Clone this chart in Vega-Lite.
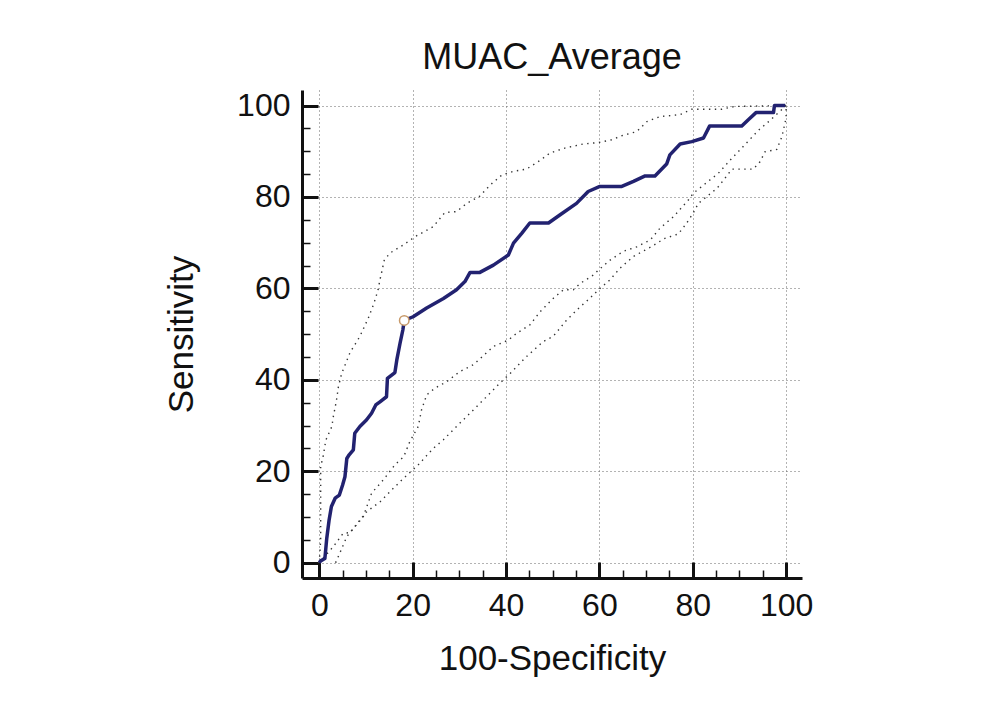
{
  "$schema": "https://vega.github.io/schema/vega-lite/v6.json",
  "autosize": {"type": "none"},
  "padding": {"left": 302, "top": 90, "right": 184, "bottom": 145},
  "width": 500,
  "height": 488,
  "background": "white",
  "title": {"text": "MUAC_Average", "fontSize": 36, "font": "Liberation Sans", "fontWeight": "normal", "color": "#111111", "anchor": "middle", "frame": "group", "offset": 13},
  "config": {
    "view": {"stroke": null},
    "axis": {
      "labelFont": "Liberation Sans",
      "titleFont": "Liberation Sans",
      "labelFontSize": 32,
      "titleFontSize": 35,
      "titleFontWeight": "normal",
      "labelColor": "#111111",
      "titleColor": "#111111",
      "domainColor": "#111111",
      "domainWidth": 3,
      "tickColor": "#111111",
      "gridColor": "#666666",
      "gridDash": [1, 3],
      "gridWidth": 1
    }
  },
  "datasets": {
    "roc": [
      {"i": 0, "x": 0, "y": 0}, {"i": 1, "x": 0.3, "y": 0.4}, {"i": 2, "x": 1.2, "y": 0.9}, {"i": 3, "x": 1.6, "y": 5.3},
      {"i": 4, "x": 2.1, "y": 9.3}, {"i": 5, "x": 2.6, "y": 12.3}, {"i": 6, "x": 3.4, "y": 14.1}, {"i": 7, "x": 4.3, "y": 14.8},
      {"i": 8, "x": 5, "y": 17}, {"i": 9, "x": 5.5, "y": 18.8}, {"i": 10, "x": 5.9, "y": 22.8}, {"i": 11, "x": 6.4, "y": 23.6},
      {"i": 12, "x": 7.3, "y": 24.7}, {"i": 13, "x": 7.6, "y": 28.3}, {"i": 14, "x": 8.7, "y": 29.8}, {"i": 15, "x": 10.1, "y": 31.2},
      {"i": 16, "x": 11.2, "y": 32.7}, {"i": 17, "x": 12.1, "y": 34.5}, {"i": 18, "x": 13, "y": 35.2}, {"i": 19, "x": 14.4, "y": 36.3},
      {"i": 20, "x": 14.6, "y": 40.3}, {"i": 21, "x": 16.2, "y": 41.6}, {"i": 22, "x": 16.6, "y": 44.3}, {"i": 23, "x": 17.3, "y": 48},
      {"i": 24, "x": 17.9, "y": 50.9}, {"i": 25, "x": 18.2, "y": 53}, {"i": 26, "x": 20.1, "y": 53.8}, {"i": 27, "x": 23, "y": 55.7},
      {"i": 28, "x": 26.6, "y": 57.8}, {"i": 29, "x": 29.4, "y": 59.7}, {"i": 30, "x": 31.2, "y": 61.5}, {"i": 31, "x": 32.3, "y": 63.5},
      {"i": 32, "x": 34.4, "y": 63.5}, {"i": 33, "x": 37.3, "y": 65.1}, {"i": 34, "x": 40.5, "y": 67.3}, {"i": 35, "x": 41.6, "y": 69.9},
      {"i": 36, "x": 43.4, "y": 72.1}, {"i": 37, "x": 45.1, "y": 74.3}, {"i": 38, "x": 49.1, "y": 74.3}, {"i": 39, "x": 51.6, "y": 76.1},
      {"i": 40, "x": 55.1, "y": 78.6}, {"i": 41, "x": 57.6, "y": 81.2}, {"i": 42, "x": 60.1, "y": 82.3}, {"i": 43, "x": 64.8, "y": 82.3},
      {"i": 44, "x": 67.3, "y": 83.4}, {"i": 45, "x": 69.8, "y": 84.6}, {"i": 46, "x": 71.9, "y": 84.6}, {"i": 47, "x": 74.4, "y": 87.2},
      {"i": 48, "x": 75.1, "y": 89.2}, {"i": 49, "x": 77.3, "y": 91.6}, {"i": 50, "x": 79.8, "y": 92.1}, {"i": 51, "x": 82.3, "y": 92.9},
      {"i": 52, "x": 83.6, "y": 95.5}, {"i": 53, "x": 90.5, "y": 95.5}, {"i": 54, "x": 91.9, "y": 96.9}, {"i": 55, "x": 93.6, "y": 98.5},
      {"i": 56, "x": 97.3, "y": 98.5}, {"i": 57, "x": 97.5, "y": 100}, {"i": 58, "x": 99.8, "y": 100}
    ],
    "bands": [
      {"s": "upper", "i": 0, "x": 0, "y": 0}, {"s": "upper", "i": 1, "x": 0.3, "y": 5}, {"s": "upper", "i": 2, "x": 0.3, "y": 21},
      {"s": "upper", "i": 3, "x": 0.9, "y": 23.6}, {"s": "upper", "i": 4, "x": 1.4, "y": 26.8}, {"s": "upper", "i": 5, "x": 2.7, "y": 29.8},
      {"s": "upper", "i": 6, "x": 3, "y": 31.9}, {"s": "upper", "i": 7, "x": 3.7, "y": 35.6}, {"s": "upper", "i": 8, "x": 4.1, "y": 38.5},
      {"s": "upper", "i": 9, "x": 4.8, "y": 41.4}, {"s": "upper", "i": 10, "x": 6.6, "y": 46}, {"s": "upper", "i": 11, "x": 8.7, "y": 49.5},
      {"s": "upper", "i": 12, "x": 10.5, "y": 53.5}, {"s": "upper", "i": 13, "x": 11.7, "y": 56.7}, {"s": "upper", "i": 14, "x": 12.6, "y": 59.7},
      {"s": "upper", "i": 15, "x": 13, "y": 61.9}, {"s": "upper", "i": 16, "x": 13.4, "y": 63.7}, {"s": "upper", "i": 17, "x": 13.9, "y": 66.1},
      {"s": "upper", "i": 18, "x": 15.1, "y": 67.7}, {"s": "upper", "i": 19, "x": 18, "y": 69.5}, {"s": "upper", "i": 20, "x": 20.5, "y": 71.3},
      {"s": "upper", "i": 21, "x": 24.4, "y": 73.5}, {"s": "upper", "i": 22, "x": 26.9, "y": 76.6}, {"s": "upper", "i": 23, "x": 29.4, "y": 76.8},
      {"s": "upper", "i": 24, "x": 31.6, "y": 78.6}, {"s": "upper", "i": 25, "x": 34.4, "y": 80.2}, {"s": "upper", "i": 26, "x": 36.6, "y": 82.6},
      {"s": "upper", "i": 27, "x": 39.1, "y": 84.8}, {"s": "upper", "i": 28, "x": 41.6, "y": 85.6}, {"s": "upper", "i": 29, "x": 44.4, "y": 86.1},
      {"s": "upper", "i": 30, "x": 47.3, "y": 88}, {"s": "upper", "i": 31, "x": 49.4, "y": 89.6}, {"s": "upper", "i": 32, "x": 52.6, "y": 90.7},
      {"s": "upper", "i": 33, "x": 56.6, "y": 91.6}, {"s": "upper", "i": 34, "x": 59.8, "y": 91.9}, {"s": "upper", "i": 35, "x": 62.6, "y": 92.5},
      {"s": "upper", "i": 36, "x": 64.8, "y": 93.4}, {"s": "upper", "i": 37, "x": 68, "y": 94.3}, {"s": "upper", "i": 38, "x": 70.2, "y": 96.5},
      {"s": "upper", "i": 39, "x": 73, "y": 97.6}, {"s": "upper", "i": 40, "x": 77.3, "y": 98}, {"s": "upper", "i": 41, "x": 79.8, "y": 99.2},
      {"s": "upper", "i": 42, "x": 86.2, "y": 99.2}, {"s": "upper", "i": 43, "x": 89, "y": 99.8}, {"s": "upper", "i": 44, "x": 100, "y": 100},

      {"s": "lowerB", "i": 0, "x": 0, "y": 0}, {"s": "lowerB", "i": 1, "x": 3, "y": 3.5}, {"s": "lowerB", "i": 2, "x": 5.1, "y": 6.4},
      {"s": "lowerB", "i": 3, "x": 6.6, "y": 6.6}, {"s": "lowerB", "i": 4, "x": 9.4, "y": 10}, {"s": "lowerB", "i": 5, "x": 11.2, "y": 15.2},
      {"s": "lowerB", "i": 6, "x": 13.7, "y": 18.1}, {"s": "lowerB", "i": 7, "x": 16.2, "y": 21.4}, {"s": "lowerB", "i": 8, "x": 18.1, "y": 23.2},
      {"s": "lowerB", "i": 9, "x": 19.4, "y": 26.5}, {"s": "lowerB", "i": 10, "x": 21.2, "y": 29.8}, {"s": "lowerB", "i": 11, "x": 21.9, "y": 33.4},
      {"s": "lowerB", "i": 12, "x": 23, "y": 36.7}, {"s": "lowerB", "i": 13, "x": 24.8, "y": 38.2}, {"s": "lowerB", "i": 14, "x": 27.3, "y": 39.6},
      {"s": "lowerB", "i": 15, "x": 30.1, "y": 41.8}, {"s": "lowerB", "i": 16, "x": 33, "y": 43.3}, {"s": "lowerB", "i": 17, "x": 37.3, "y": 47.3},
      {"s": "lowerB", "i": 18, "x": 40.5, "y": 48.7}, {"s": "lowerB", "i": 19, "x": 42.3, "y": 50.2}, {"s": "lowerB", "i": 20, "x": 45.1, "y": 52},
      {"s": "lowerB", "i": 21, "x": 47.3, "y": 54.9}, {"s": "lowerB", "i": 22, "x": 50.1, "y": 57.8}, {"s": "lowerB", "i": 23, "x": 52.3, "y": 59.7},
      {"s": "lowerB", "i": 24, "x": 54.4, "y": 59.7}, {"s": "lowerB", "i": 25, "x": 55.9, "y": 61.1}, {"s": "lowerB", "i": 26, "x": 58.7, "y": 62.9},
      {"s": "lowerB", "i": 27, "x": 59.8, "y": 64}, {"s": "lowerB", "i": 28, "x": 62.3, "y": 66.2}, {"s": "lowerB", "i": 29, "x": 65.1, "y": 68.1},
      {"s": "lowerB", "i": 30, "x": 68, "y": 69.1}, {"s": "lowerB", "i": 31, "x": 70.9, "y": 70.6}, {"s": "lowerB", "i": 32, "x": 73, "y": 73.2},
      {"s": "lowerB", "i": 33, "x": 75.9, "y": 75.7}, {"s": "lowerB", "i": 34, "x": 79.1, "y": 79.4}, {"s": "lowerB", "i": 35, "x": 80.1, "y": 80.8},
      {"s": "lowerB", "i": 36, "x": 82.3, "y": 82.6}, {"s": "lowerB", "i": 37, "x": 85.5, "y": 85.2}, {"s": "lowerB", "i": 38, "x": 88.4, "y": 88.5},
      {"s": "lowerB", "i": 39, "x": 91.6, "y": 91.9}, {"s": "lowerB", "i": 40, "x": 94.1, "y": 94.6}, {"s": "lowerB", "i": 41, "x": 96.6, "y": 96.8},
      {"s": "lowerB", "i": 42, "x": 100, "y": 100},

      {"s": "lowerC", "i": 0, "x": 3.5, "y": 0}, {"s": "lowerC", "i": 1, "x": 4.4, "y": 2.1}, {"s": "lowerC", "i": 2, "x": 5.9, "y": 5.7},
      {"s": "lowerC", "i": 3, "x": 7.6, "y": 7.9}, {"s": "lowerC", "i": 4, "x": 10.2, "y": 11.2}, {"s": "lowerC", "i": 5, "x": 13, "y": 13.3},
      {"s": "lowerC", "i": 6, "x": 15.5, "y": 15.9}, {"s": "lowerC", "i": 7, "x": 18.1, "y": 18.5}, {"s": "lowerC", "i": 8, "x": 21.2, "y": 21.4},
      {"s": "lowerC", "i": 9, "x": 24.4, "y": 25}, {"s": "lowerC", "i": 10, "x": 26.6, "y": 26.9}, {"s": "lowerC", "i": 11, "x": 29.4, "y": 29.8},
      {"s": "lowerC", "i": 12, "x": 33, "y": 33.4}, {"s": "lowerC", "i": 13, "x": 36.2, "y": 36.7}, {"s": "lowerC", "i": 14, "x": 38.7, "y": 39.3},
      {"s": "lowerC", "i": 15, "x": 40.9, "y": 41.4}, {"s": "lowerC", "i": 16, "x": 44.4, "y": 45.1}, {"s": "lowerC", "i": 17, "x": 48, "y": 48.4},
      {"s": "lowerC", "i": 18, "x": 50.1, "y": 49.5}, {"s": "lowerC", "i": 19, "x": 53, "y": 53.1}, {"s": "lowerC", "i": 20, "x": 55.9, "y": 56},
      {"s": "lowerC", "i": 21, "x": 57.6, "y": 57.5}, {"s": "lowerC", "i": 22, "x": 59.8, "y": 59.7}, {"s": "lowerC", "i": 23, "x": 62.3, "y": 61.9},
      {"s": "lowerC", "i": 24, "x": 64.4, "y": 64.4}, {"s": "lowerC", "i": 25, "x": 67.3, "y": 67}, {"s": "lowerC", "i": 26, "x": 71.1, "y": 69.1},
      {"s": "lowerC", "i": 27, "x": 73.9, "y": 70.9}, {"s": "lowerC", "i": 28, "x": 76.9, "y": 71.9}, {"s": "lowerC", "i": 29, "x": 78.7, "y": 74.3},
      {"s": "lowerC", "i": 30, "x": 80.1, "y": 76.5}, {"s": "lowerC", "i": 31, "x": 81.2, "y": 78.6}, {"s": "lowerC", "i": 32, "x": 85.2, "y": 81.9},
      {"s": "lowerC", "i": 33, "x": 86.9, "y": 84.1}, {"s": "lowerC", "i": 34, "x": 88.4, "y": 86.1}, {"s": "lowerC", "i": 35, "x": 93, "y": 86.1},
      {"s": "lowerC", "i": 36, "x": 94.4, "y": 87.7}, {"s": "lowerC", "i": 37, "x": 95.5, "y": 89.9}, {"s": "lowerC", "i": 38, "x": 98, "y": 90.4},
      {"s": "lowerC", "i": 39, "x": 99.1, "y": 93.2}, {"s": "lowerC", "i": 40, "x": 100, "y": 97.3}, {"s": "lowerC", "i": 41, "x": 100, "y": 100}
    ],
    "cut": [{"x": 18.2, "y": 53}]
  },
  "encoding": {
    "x": {
      "field": "x", "type": "quantitative",
      "scale": {"domain": [-3.7, 103.4], "nice": false, "zero": false},
      "axis": {
        "title": "100-Specificity",
        "values": [0, 5, 10, 15, 20, 25, 30, 35, 40, 45, 50, 55, 60, 65, 70, 75, 80, 85, 90, 95, 100],
        "labelExpr": "datum.value % 20 == 0 ? datum.label : ''",
        "tickSize": {"condition": {"test": "datum.value % 20 == 0", "value": -16}, "value": -8},
        "tickWidth": {"condition": {"test": "datum.value % 20 == 0", "value": 3}, "value": 1.5},
        "grid": true,
        "gridOpacity": {"condition": {"test": "datum.value % 20 == 0", "value": 1}, "value": 0},
        "labelPadding": 28,
        "titlePadding": 20,
        "labelFlush": false
      }
    },
    "y": {
      "field": "y", "type": "quantitative",
      "scale": {"domain": [-3.35, 103.4], "nice": false, "zero": false},
      "axis": {
        "title": "Sensitivity",
        "values": [0, 5, 10, 15, 20, 25, 30, 35, 40, 45, 50, 55, 60, 65, 70, 75, 80, 85, 90, 95, 100],
        "labelExpr": "datum.value % 20 == 0 ? datum.label : ''",
        "tickSize": {"condition": {"test": "datum.value % 20 == 0", "value": -16}, "value": -8},
        "tickWidth": {"condition": {"test": "datum.value % 20 == 0", "value": 3}, "value": 1.5},
        "grid": true,
        "gridOpacity": {"condition": {"test": "datum.value % 20 == 0", "value": 1}, "value": 0},
        "labelPadding": 28,
        "titlePadding": 37,
        "labelFlush": false
      }
    }
  },
  "layer": [
    {
      "data": {"name": "bands"},
      "mark": {"type": "line", "color": "#333333", "strokeWidth": 1.4, "strokeDash": [1.4, 4.5]},
      "encoding": {"detail": {"field": "s"}, "order": {"field": "i", "type": "quantitative"}}
    },
    {
      "data": {"name": "roc"},
      "mark": {"type": "line", "color": "#222270", "strokeWidth": 3.5, "strokeJoin": "round"},
      "encoding": {"order": {"field": "i", "type": "quantitative"}}
    },
    {
      "data": {"name": "cut"},
      "mark": {"type": "point", "shape": "circle", "fill": "white", "stroke": "#c89a6a", "strokeWidth": 1.5, "size": 90, "opacity": 1}
    }
  ]
}
